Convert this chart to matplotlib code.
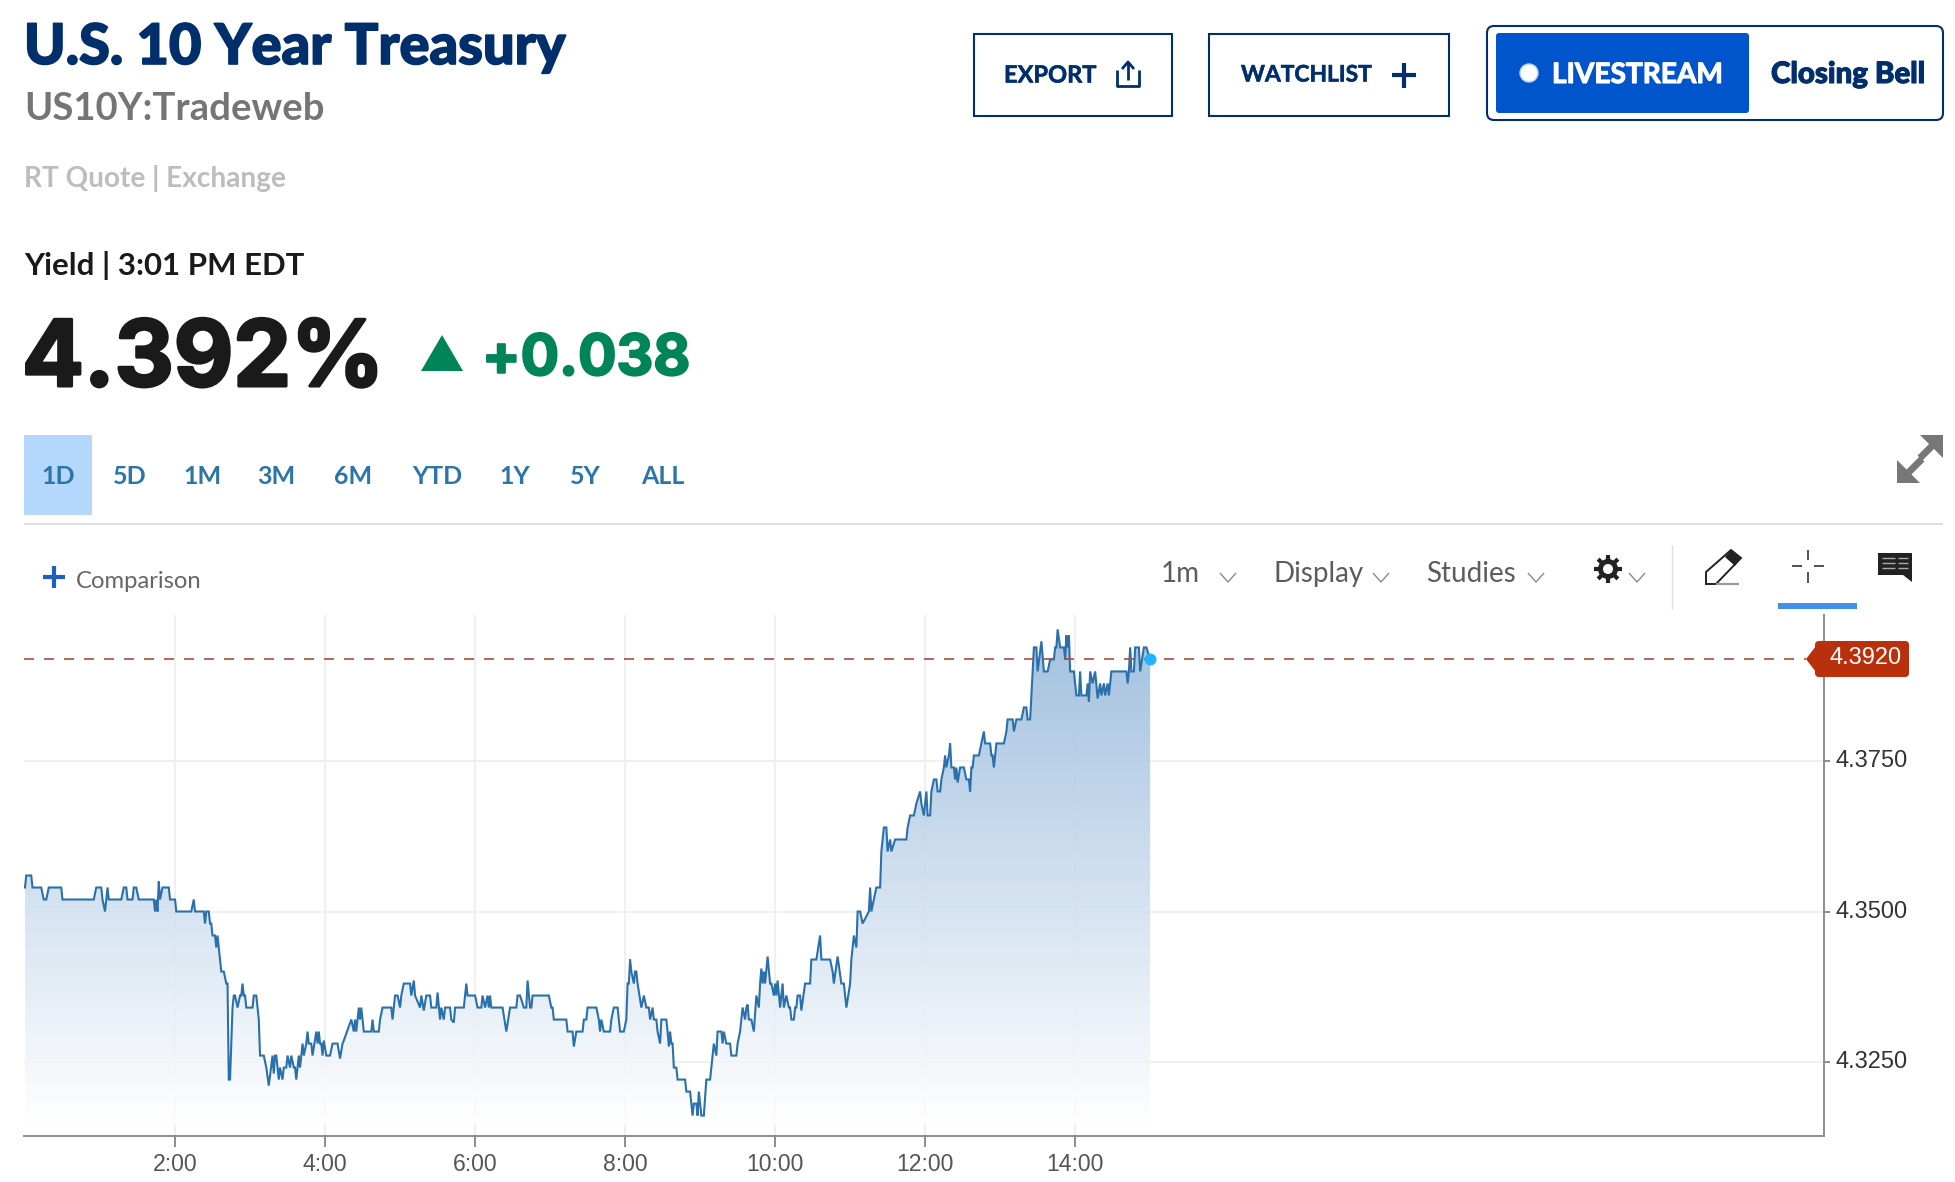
import numpy as np
from matplotlib import patheffects, pyplot as plt
from matplotlib.patches import Circle, FancyBboxPatch, Polygon, Rectangle

# one reading per row pair, minutes after midnight
minutes = [
  0, 1, 5, 6, 13, 15, 17, 19, 29, 30,
  55, 57, 61, 62, 64, 65, 66, 67, 77, 79,
  81, 82, 86, 87, 89, 91, 103, 104, 105, 106,
  107, 108, 110, 115, 116, 120, 121, 133, 135, 136,
  143, 144, 145, 147, 148, 149, 150, 152, 153, 154,
  155, 156, 157, 159, 161, 162, 163, 164, 166, 167,
  168, 170, 172, 173, 174, 175, 176, 177, 182, 183,
  185, 186, 187, 188, 191, 193, 195, 198, 199, 200,
  201, 203, 204, 206, 207, 209, 210, 212, 213, 215,
  216, 217, 219, 220, 221, 222, 223, 225, 226, 227,
  229, 230, 233, 234, 235, 236, 237, 238, 239, 241,
  244, 246, 250, 252, 254, 255, 261, 263, 264, 265,
  266, 267, 268, 269, 270, 271, 277, 278, 279, 283,
  284, 286, 293, 294, 296, 298, 300, 301, 303, 308,
  309, 311, 312, 316, 317, 319, 321, 324, 325, 329,
  330, 332, 333, 335, 336, 340, 341, 343, 344, 351,
  353, 354, 360, 362, 365, 366, 368, 370, 371, 372,
  373, 380, 382, 385, 388, 393, 394, 396, 399, 401,
  402, 404, 405, 406, 419, 421, 422, 423, 433, 434,
  438, 439, 441, 446, 447, 449, 450, 457, 459, 460,
  461, 463, 468, 469, 471, 474, 476, 479, 481, 482,
  483, 484, 485, 487, 488, 489, 490, 493, 495, 497,
  499, 500, 502, 503, 505, 506, 508, 509, 513, 514,
  515, 516, 517, 518, 519, 521, 522, 528, 529, 532,
  534, 535, 537, 538, 539, 541, 543, 545, 548, 549,
  551, 553, 554, 557, 558, 559, 561, 564, 565, 569,
  570, 572, 573, 574, 576, 577, 578, 579, 581, 583,
  585, 587, 588, 589, 590, 591, 592, 594, 596, 597,
  599, 600, 601, 602, 604, 606, 607, 609, 611, 612,
  613, 615, 616, 617, 618, 620, 621, 624, 628, 629,
  633, 636, 637, 644, 646, 647, 650, 653, 655, 657,
  660, 661, 663, 665, 666, 668, 670, 675, 676, 677,
  681, 684, 685, 687, 689, 690, 692, 693, 696, 705,
  706, 708, 711, 713, 716, 717, 719, 721, 722, 724,
  725, 727, 729, 730, 732, 733, 735, 736, 737, 739,
  740, 741, 743, 744, 745, 746, 748, 751, 753, 755,
  756, 757, 758, 759, 763, 765, 767, 768, 772, 773,
  774, 775, 777, 783, 785, 786, 790, 791, 793, 797,
  799, 801, 802, 804, 807, 809, 810, 813, 815, 818,
  820, 823, 824, 825, 826, 828, 831, 832, 833, 834,
  835, 836, 839, 840, 841, 843, 844, 845, 849, 850,
  851, 852, 854, 856, 858, 860, 861, 863, 864, 866,
  867, 869, 881, 882, 883, 884, 885, 887, 888, 891,
  892, 895, 897, 900,
]
yields = [
  4.354, 4.356, 4.356, 4.354, 4.354, 4.352, 4.352, 4.354, 4.354, 4.352,
  4.352, 4.354, 4.354, 4.352, 4.350, 4.352, 4.354, 4.352, 4.352, 4.354,
  4.354, 4.352, 4.352, 4.354, 4.354, 4.352, 4.352, 4.350, 4.352, 4.350,
  4.355, 4.352, 4.354, 4.354, 4.352, 4.352, 4.350, 4.350, 4.352, 4.350,
  4.350, 4.348, 4.350, 4.350, 4.348, 4.348, 4.346, 4.346, 4.344, 4.346,
  4.344, 4.342, 4.340, 4.340, 4.338, 4.338, 4.322, 4.322, 4.334, 4.336,
  4.336, 4.334, 4.336, 4.336, 4.338, 4.336, 4.336, 4.334, 4.334, 4.336,
  4.336, 4.334, 4.332, 4.326, 4.326, 4.324, 4.321, 4.326, 4.323, 4.326,
  4.326, 4.322, 4.324, 4.322, 4.324, 4.324, 4.326, 4.324, 4.326, 4.324,
  4.324, 4.322, 4.326, 4.324, 4.326, 4.328, 4.326, 4.328, 4.330, 4.328,
  4.328, 4.326, 4.330, 4.328, 4.330, 4.328, 4.328, 4.326, 4.3285, 4.326,
  4.326, 4.328, 4.328, 4.3255, 4.328, 4.3285, 4.332, 4.330, 4.332, 4.330,
  4.332, 4.334, 4.332, 4.334, 4.332, 4.330, 4.330, 4.332, 4.330, 4.330,
  4.332, 4.334, 4.334, 4.332, 4.336, 4.336, 4.334, 4.336, 4.338, 4.338,
  4.336, 4.3385, 4.336, 4.334, 4.336, 4.3335, 4.336, 4.336, 4.334, 4.334,
  4.3365, 4.332, 4.334, 4.332, 4.334, 4.334, 4.332, 4.3315, 4.334, 4.334,
  4.338, 4.336, 4.336, 4.334, 4.334, 4.336, 4.334, 4.336, 4.334, 4.336,
  4.334, 4.334, 4.334, 4.330, 4.334, 4.334, 4.336, 4.336, 4.334, 4.334,
  4.3385, 4.334, 4.334, 4.336, 4.336, 4.334, 4.334, 4.332, 4.332, 4.330,
  4.330, 4.3275, 4.330, 4.330, 4.332, 4.332, 4.334, 4.334, 4.332, 4.330,
  4.332, 4.330, 4.330, 4.332, 4.334, 4.334, 4.330, 4.330, 4.332, 4.338,
  4.338, 4.342, 4.340, 4.338, 4.340, 4.340, 4.338, 4.334, 4.336, 4.334,
  4.334, 4.332, 4.334, 4.332, 4.332, 4.330, 4.328, 4.332, 4.332, 4.330,
  4.3275, 4.330, 4.328, 4.328, 4.324, 4.324, 4.322, 4.322, 4.320, 4.320,
  4.316, 4.318, 4.318, 4.316, 4.320, 4.316, 4.316, 4.322, 4.322, 4.324,
  4.328, 4.326, 4.330, 4.330, 4.328, 4.330, 4.328, 4.328, 4.326, 4.326,
  4.328, 4.330, 4.332, 4.334, 4.332, 4.334, 4.3345, 4.332, 4.332, 4.330,
  4.336, 4.334, 4.338, 4.3405, 4.338, 4.340, 4.338, 4.3425, 4.338, 4.338,
  4.336, 4.338, 4.336, 4.3385, 4.334, 4.338, 4.334, 4.336, 4.334, 4.334,
  4.332, 4.332, 4.334, 4.334, 4.336, 4.336, 4.3335, 4.338, 4.338, 4.342,
  4.342, 4.346, 4.342, 4.342, 4.340, 4.338, 4.3425, 4.338, 4.338, 4.334,
  4.338, 4.342, 4.346, 4.344, 4.350, 4.350, 4.348, 4.350, 4.354, 4.350,
  4.354, 4.354, 4.360, 4.364, 4.364, 4.360, 4.362, 4.360, 4.362, 4.362,
  4.364, 4.366, 4.366, 4.368, 4.370, 4.368, 4.366, 4.370, 4.366, 4.366,
  4.370, 4.372, 4.372, 4.370, 4.370, 4.372, 4.374, 4.376, 4.374, 4.376,
  4.378, 4.374, 4.374, 4.372, 4.374, 4.3715, 4.374, 4.374, 4.372, 4.372,
  4.370, 4.374, 4.374, 4.376, 4.376, 4.378, 4.380, 4.378, 4.378, 4.376,
  4.376, 4.374, 4.378, 4.378, 4.380, 4.382, 4.382, 4.380, 4.382, 4.382,
  4.384, 4.384, 4.382, 4.382, 4.394, 4.394, 4.390, 4.395, 4.390, 4.390,
  4.392, 4.392, 4.394, 4.394, 4.397, 4.394, 4.394, 4.392, 4.396, 4.394,
  4.396, 4.390, 4.390, 4.388, 4.386, 4.386, 4.390, 4.386, 4.386, 4.388,
  4.385, 4.390, 4.388, 4.390, 4.3855, 4.388, 4.386, 4.388, 4.386, 4.388,
  4.386, 4.390, 4.390, 4.388, 4.390, 4.394, 4.390, 4.390, 4.394, 4.394,
  4.390, 4.394, 4.394, 4.392,
]

last_yield = 4.392
hour_ticks = [120, 240, 360, 480, 600, 720, 840]
hour_labels = ['2:00', '4:00', '6:00', '8:00', '10:00', '12:00', '14:00']
yield_ticks = [4.325, 4.35, 4.375]
yield_labels = ['4.3250', '4.3500', '4.3750']
tab_labels = ['1D', '5D', '1M', '3M', '6M', 'YTD', '1Y', '5Y', 'ALL']
tab_centers = [58, 130, 202, 276, 353, 437, 515, 585, 663]

W, H = 1956, 1182
NAVY = '#002f6c'
LINE = '#2a70aa'
HEAD = 'Lato'
CHART = 'Liberation Sans'


def label(ui, x, y, s, size, color, weight='normal', family=HEAD, ha='left', stroke=0):
  text = ui.text(x, y, s, fontsize=size, color=color, fontweight=weight, family=family, ha=ha, va='center')
  if stroke:
    text.set_path_effects([patheffects.withStroke(linewidth=stroke, foreground=color)])


def seg(ui, xs, ys, color, lw=2.0, cap='butt'):
  ui.plot(xs, ys, color=color, lw=lw, solid_capstyle=cap)


def box(ui, x0, y0, x1, y1, face='none', edge='none', lw=0, rounded=0):
  if rounded:
    patch = FancyBboxPatch((x0, y0), x1 - x0, y1 - y0, boxstyle=f'round,pad=0,rounding_size={rounded}',
                           facecolor=face, edgecolor=edge, linewidth=lw)
  else:
    patch = Rectangle((x0, y0), x1 - x0, y1 - y0, facecolor=face, edgecolor=edge, linewidth=lw)
  ui.add_patch(patch)


def chevron(ui, x, y):
  seg(ui, [x - 8, x, x + 8], [y - 5, y + 4, y - 5], '#8a8a8a', lw=1.0)


def draw_header(ui):
  label(ui, 24, 48, 'U.S. 10 Year Treasury', 40.3, NAVY, weight=900, stroke=1.2)
  label(ui, 24, 109, 'US10Y:Tradeweb', 27.5, '#757575', weight='bold')
  label(ui, 24, 179, 'RT Quote | Exchange', 20.2, '#bdbdbd', weight='bold')
  label(ui, 24, 265, 'Yield | 3:01 PM EDT', 22.4, '#1a1a1a', weight='bold')
  label(ui, 22, 362, '4.392%', 66, '#1a1a1a', weight='bold', family='Inter', stroke=2.2)
  ui.add_patch(Polygon([(421, 371), (442, 335), (463, 371)], facecolor='#008558'))
  label(ui, 482, 360, '+0.038', 41, '#008558', weight='bold', family='Inter', stroke=1.5)

  box(ui, 974, 34, 1172, 116, edge=NAVY, lw=1.5)
  label(ui, 1004, 75, 'EXPORT', 17, NAVY, weight='bold', stroke=0.4)
  seg(ui, [1128, 1128], [80, 62], NAVY, lw=2)
  seg(ui, [1122, 1128, 1134], [69, 62, 69], NAVY, lw=2)
  seg(ui, [1117, 1117, 1139, 1139], [70, 86, 86, 70], NAVY, lw=2)

  box(ui, 1209, 34, 1449, 116, edge=NAVY, lw=1.5)
  label(ui, 1241, 75, 'WATCHLIST', 16.4, NAVY, weight='bold', stroke=0.4)
  seg(ui, [1392, 1416], [75, 75], NAVY, lw=3)
  seg(ui, [1404, 1404], [63, 88], NAVY, lw=3)

  box(ui, 1487, 26, 1943, 120, face='white', edge=NAVY, lw=1.5, rounded=7)
  box(ui, 1496, 33, 1749, 113, face='#0055cc', rounded=3)
  ui.add_patch(Circle((1529, 73), 9, facecolor='white', edgecolor='#b3d1f5', linewidth=1))
  label(ui, 1552, 75, 'LIVESTREAM', 20.2, 'white', weight='bold', stroke=0.8)
  label(ui, 1771, 75, 'Closing Bell', 21.2, NAVY, weight=900, stroke=0.8)


def draw_tabs(ui):
  box(ui, 24, 435, 92, 515, face='#b3d7fd')
  for center, tab in zip(tab_centers, tab_labels):
    label(ui, center, 476, tab, 18, '#2d75a8', weight='bold', ha='center')
  seg(ui, [24, 1943], [524, 524], '#dddddd', lw=1.5)

  # expand arrows
  arrow = '#777777'
  seg(ui, [1905, 1922], [476, 459], arrow, lw=5)
  seg(ui, [1920, 1936], [458, 442], arrow, lw=5)
  ui.add_patch(Polygon([(1897, 483), (1897, 460), (1920, 483)], facecolor=arrow))
  ui.add_patch(Polygon([(1943, 435), (1943, 458), (1920, 435)], facecolor=arrow))


def draw_toolbar(ui):
  seg(ui, [43, 65], [577, 577], '#1f5fbf', lw=3)
  seg(ui, [54, 54], [566, 588], '#1f5fbf', lw=3)
  label(ui, 76, 581, 'Comparison', 17.2, '#666666')
  label(ui, 1161, 574, '1m', 20, '#5c5c5c')
  label(ui, 1273, 574, 'Display', 20, '#5c5c5c')
  label(ui, 1426, 574, 'Studies', 20, '#5c5c5c')
  for x in [1228, 1381, 1536, 1637]:
    chevron(ui, x, 578)

  gear_x, gear_y = 1608, 569
  for angle in np.arange(0, np.pi * 2, np.pi / 4):
    seg(ui, [gear_x, gear_x + 14 * np.cos(angle)], [gear_y, gear_y + 14 * np.sin(angle)], '#222222', lw=3)
  ui.add_patch(Circle((gear_x, gear_y), 10, facecolor='#222222', zorder=3))
  ui.add_patch(Circle((gear_x, gear_y), 5, facecolor='white', zorder=4))

  seg(ui, [1672, 1672], [545, 609], '#dddddd', lw=1)

  ui.add_patch(Polygon([(1706, 584), (1706, 572), (1731, 550), (1741, 558), (1716, 584)],
                       facecolor='white', edgecolor='#222222', linewidth=1.4))
  ui.add_patch(Polygon([(1731, 550), (1741, 558), (1735, 566), (1725, 557)], facecolor='#222222'))
  seg(ui, [1716, 1739], [584, 584], '#999999', lw=1.6)

  seg(ui, [1808, 1808], [550, 560], '#333333', lw=1.2)
  seg(ui, [1808, 1808], [572, 583], '#333333', lw=1.2)
  seg(ui, [1792, 1802], [566, 566], '#333333', lw=1.2)
  seg(ui, [1814, 1824], [566, 566], '#333333', lw=1.2)
  box(ui, 1778, 603, 1857, 609, face='#4290e8')

  ui.add_patch(Polygon([(1878, 553), (1912, 553), (1912, 582), (1903, 575), (1878, 575)], facecolor='#222222'))
  for y in [558, 563, 568]:
    seg(ui, [1882, 1895], [y, y], '#aaaaaa', lw=1)
    seg(ui, [1898, 1908], [y, y], '#aaaaaa', lw=1)


def draw_price_tag(ui):
  tag = '#b8300c'
  box(ui, 1815, 641, 1909, 677, face=tag, rounded=4)
  ui.add_patch(Polygon([(1806, 659), (1819, 642), (1819, 676)], facecolor=tag))
  label(ui, 1866, 658, '4.3920', 17, 'white', family=CHART, ha='center')


def draw_chart(ax):
  top, bottom = 4.3994, 4.3126
  # gradient under the line, clipped to the area, nearly opaque so the grid only just shows
  strength = np.linspace(0.5, 0.0, 256)
  rgba = np.ones((256, 1, 4))
  rgba[..., :3] = 1 - strength[:, None, None] * (1 - np.array([30, 105, 180]) / 255)
  rgba[:, 0, 3] = 0.85
  area = ax.fill_between(minutes, yields, bottom, facecolor='none', edgecolor='none')
  image = ax.imshow(rgba, extent=[0, 900, 4.3145, 4.3994], origin='upper', aspect='auto', zorder=2)
  image.set_clip_path(area.get_paths()[0], transform=ax.transData)

  ax.plot(minutes, yields, color=LINE, lw=1.5, zorder=3, solid_joinstyle='miter')
  ax.axhline(last_yield, color='#b04a3a', lw=1.2, linestyle=(0, (6, 6)), zorder=4, xmax=0.99)
  ax.plot(minutes[-1], last_yield, 'o', color='#1eb4ff', ms=8.6, mew=0, zorder=5)

  ax.set_xlim(-0.8, 1439)
  ax.set_ylim(bottom, top)
  ax.set_xticks(hour_ticks)
  ax.set_xticklabels(hour_labels, family=CHART, fontsize=16.6, color='#555555')
  ax.set_yticks(yield_ticks)
  ax.set_yticklabels(yield_labels, family=CHART, fontsize=17, color='#333333', va='center')
  ax.yaxis.tick_right()
  ax.tick_params(axis='x', length=8, width=1.4, color='#8c8c8c', pad=4.5)
  ax.tick_params(axis='y', length=4, width=1.4, color='#8c8c8c', pad=4)
  ax.grid(True, color='#f0f0f0', lw=1.5, zorder=0)
  ax.set_axisbelow(True)
  for side in ['top', 'left']:
    ax.spines[side].set_visible(False)
  for side in ['bottom', 'right']:
    ax.spines[side].set_color('#8c8c8c')
    ax.spines[side].set_linewidth(1.4)


def main():
  fig = plt.figure(figsize=(W / 100, H / 100), dpi=100, facecolor='white')

  ax = fig.add_axes([24 / W, 1 - 1136 / H, (1824 - 24) / W, (1136 - 615) / H])
  draw_chart(ax)

  # overlay in pixel coordinates for the page furniture
  ui = fig.add_axes([0, 0, 1, 1], facecolor='none')
  ui.set_xlim(0, W)
  ui.set_ylim(H, 0)
  ui.axis('off')
  draw_header(ui)
  draw_tabs(ui)
  draw_toolbar(ui)
  draw_price_tag(ui)

  fig.savefig('out.png', dpi=100)
  plt.close(fig)


if __name__ == '__main__':
  main()
